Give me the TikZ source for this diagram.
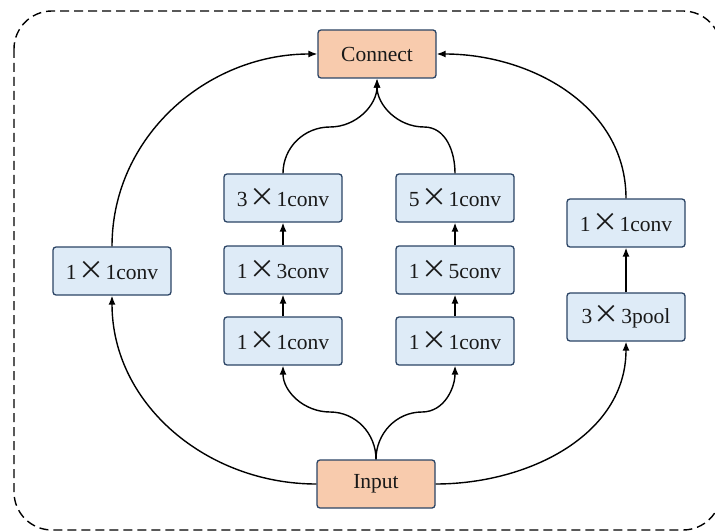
\documentclass[tikz,border=0pt]{standalone}
\usepackage{fontspec}
\setmainfont{Liberation Serif}
\newfontfamily\cjk{Noto Sans CJK SC}
\usetikzlibrary{arrows.meta}
\definecolor{peach}{HTML}{F8CBAD}
\definecolor{paleblue}{HTML}{DEEBF7}
\definecolor{navy}{HTML}{2B4465}
\newcommand{\tms}{\kern1.5pt{\cjk\fontsize{26}{25}\selectfont ×}\kern1.5pt}
\tikzset{
  box/.style={rectangle, rounded corners=3pt, draw=navy, line width=1.3pt,
    minimum width=118pt, minimum height=48pt, inner sep=0pt,
    font=\fontsize{21.5}{25}\selectfont, text=black!90},
  conv/.style={box, fill=paleblue},
  io/.style={box, fill=peach},
  link/.style={line width=1.4pt, -{Latex[length=9pt,width=7pt]}},
}
\begin{document}
\begin{tikzpicture}[x=1pt,y=1pt]
\useasboundingbox (0,0) rectangle (715,-532);
% outer dashed frame, its right side running past the page edge
\begin{scope}
\clip (0,0) rectangle (715,-532);
\draw[line width=1.4pt, dash pattern=on 9pt off 5pt, rounded corners=38pt]
  (14,-11) rectangle (721,-530);
\end{scope}

% nodes
\node[io]   (con) at (377,-54)  {Connect};
\node[io]   (inp) at (376,-484) {Input};
\node[conv] (L)   at (112,-271) {1\tms 1conv};
\node[conv] (a1)  at (283,-341) {1\tms 1conv};
\node[conv] (a2)  at (283,-270) {1\tms 3conv};
\node[conv] (a3)  at (283,-198) {3\tms 1conv};
\node[conv] (b1)  at (455,-341) {1\tms 1conv};
\node[conv] (b2)  at (455,-270) {1\tms 5conv};
\node[conv] (b3)  at (455,-198) {5\tms 1conv};
\node[conv] (r1)  at (626,-317) {3\tms 3pool};
\node[conv] (r2)  at (626,-223) {1\tms 1conv};

% outer branches
\draw[link] (inp.west) to[out=180,in=-90] (L.south);
\draw[link] (L.north) to[out=90,in=180] (con.west);
\draw[link] (inp.east) to[out=0,in=-90] (r1.south);
\draw[link] (r2.north) to[out=90,in=0] (con.east);

% inner branches from the input
\draw[link] (inp.north) to[out=90,in=0] (330,-412) to[out=180,in=-90] (a1.south);
\draw[link] (inp.north) to[out=90,in=180] (422,-412) to[out=0,in=-90] (b1.south);

% inner branches into connect
\draw[link] (a3.north) to[out=90,in=180] (330,-127) to[out=0,in=-90] (con.south);
\draw[link] (b3.north) to[out=90,in=0] (424,-127) to[out=180,in=-90] (con.south);

% straight links within the stacks
\draw[link] (a1) -- (a2);
\draw[link] (a2) -- (a3);
\draw[link] (b1) -- (b2);
\draw[link] (b2) -- (b3);
\draw[link] (r1) -- (r2);
\end{tikzpicture}
\end{document}
